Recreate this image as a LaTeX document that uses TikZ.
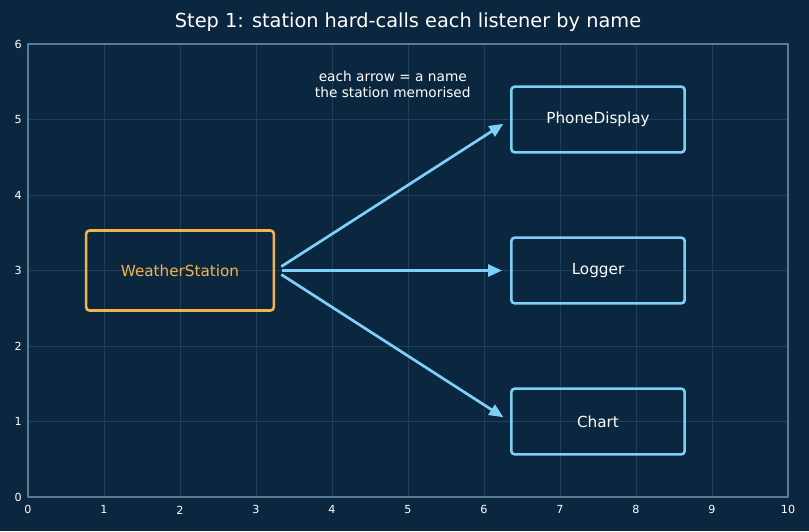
\documentclass[tikz,border=0pt]{standalone}
\usepackage{fontspec}
\setmainfont{DejaVu Sans}
\usetikzlibrary{arrows.meta}
\definecolor{bgnavy}{HTML}{0B2740}
\definecolor{gridline}{HTML}{1F3E5A}
\definecolor{spine}{HTML}{5B7A95}
\definecolor{stationorange}{HTML}{F2B24C}
\definecolor{listenerblue}{HTML}{7FD0F8}
\begin{document}
\begin{tikzpicture}[
    x=2.28cm, y=2.265cm,
    station/.style={rectangle, draw=stationorange, rounded corners=0.1cm, line width=2.2pt, minimum width=5.63cm, minimum height=2.4cm, text=stationorange, font=\fontsize{13}{15}\selectfont},
    listener/.style={rectangle, draw=listenerblue, rounded corners=0.1cm, line width=2.2pt, minimum width=5.2cm, minimum height=1.97cm, text=white, font=\fontsize{13}{15}\selectfont},
    call/.style={-{Triangle[length=0.42cm,width=0.36cm]}, line width=2.3pt, listenerblue, shorten <=0.22cm, shorten >=0.24cm},
    tick/.style={font=\fontsize{9.5}{11}\selectfont, text=white},
    note/.style={font=\fontsize{11.7}{13.6}\selectfont, text=white, align=center}
]

% Background and axes
\fill[bgnavy] (-0.368,-0.450) rectangle (10.276,6.583);
\useasboundingbox (-0.368,-0.450) rectangle (10.276,6.583);
\foreach \x in {1,...,9} {
    \draw[gridline, line width=0.6pt] (\x,0) -- (\x,6);
}
\foreach \y in {1,...,5} {
    \draw[gridline, line width=0.6pt] (0,\y) -- (10,\y);
}
\draw[spine, line width=1.2pt] (0,0) rectangle (10,6);

% Tick labels
\foreach \x in {0,...,10} {
    \node[tick] (xt\x) at (\x,-0.17) {\x};
}
\foreach \y in {0,...,6} {
    \node[tick] (yt\y) at (-0.13,\y) {\y};
}

% Title and note
\node[font=\fontsize{16.5}{19}\selectfont, text=white] (title) at (5,6.29) {Step 1: station hard-calls each listener by name};
\node[note] (memo) at (4.8,5.47) {each arrow = a name\\the station memorised};

% Station and listeners
\node[station] (station) at (2,3) {WeatherStation};
\node[listener] (phone) at (7.5,5) {PhoneDisplay};
\node[listener] (logger) at (7.5,3) {Logger};
\node[listener] (chart) at (7.5,1) {Chart};

% Hard-coded calls
\draw[call] (station.east) -- (phone.west);
\draw[call] (station.east) -- (logger.west);
\draw[call] (station.east) -- (chart.west);

\end{tikzpicture}
\end{document}
